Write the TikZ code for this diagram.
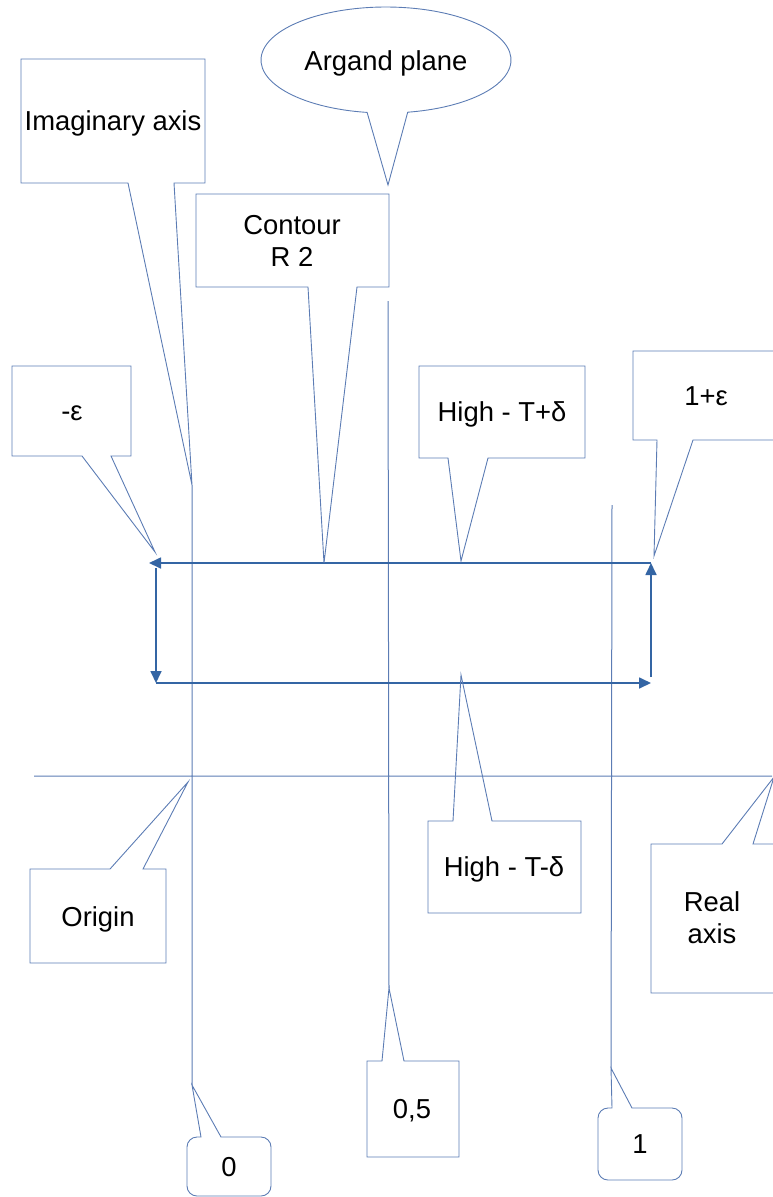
\documentclass[tikz,border=0pt]{standalone}
\usepackage{fontspec}
\setmainfont{Liberation Sans}
\usetikzlibrary{arrows.meta}
\definecolor{lineblue}{RGB}{92,124,180}
\definecolor{arrowblue}{RGB}{52,101,164}
\tikzset{
  callout/.style={draw=lineblue, line width=0.9pt, line join=miter},
  axis/.style={draw=lineblue, line width=1pt},
  txt/.style={font=\fontsize{27.4}{32}\selectfont, align=center, inner sep=0pt},
  oneline/.style={txt, text height=19.6pt, text depth=0pt},
  contour/.style={draw=arrowblue, line width=1.7pt, -{Triangle[length=12pt,width=11pt]}}
}

\begin{document}
\begin{tikzpicture}[x=1pt, y=-1pt]
\useasboundingbox (0, 0) rectangle (772, 1197);

% callout tips
\coordinate (imtip) at (192, 485);
\coordinate (argtip) at (388, 185);
\coordinate (contip) at (324, 563);
\coordinate (epstip) at (155, 552);
\coordinate (uptip) at (461, 561);
\coordinate (onetip) at (654, 556);
\coordinate (origtip) at (188, 782);
\coordinate (lowtip) at (461, 675);
\coordinate (realtip) at (774, 777);
\coordinate (halftip) at (389, 988);
\coordinate (zerotip) at (192, 1085);
\coordinate (unittip) at (611, 1068);

% axes
\coordinate (halftop) at (388, 301);
\coordinate (unittop) at (612, 505);
\coordinate (realleft) at (34, 776);
\coordinate (realright) at (772, 776);
\draw[axis] (imtip) -- (zerotip)   (halftop) -- (halftip)
            (unittop) -- (unittip)   (realleft) -- (realright);

% contour
\coordinate (ne) at (651, 563);
\coordinate (nw) at (156, 563);
\coordinate (sw) at (156, 683);
\coordinate (se) at (651, 683);
\draw[contour] (ne) -- ([xshift=-7pt]nw);
\draw[contour] ([yshift=-5pt]nw) -- (sw);
\draw[contour] (sw) -- (se);
\draw[contour] ([yshift=6pt]se) -- (ne);

% callouts above
\draw[callout] (21, 59) -- (205, 59) -- (205, 183) -- (174, 183) -- (imtip)
               -- (128, 183) -- (21, 183) -- cycle;
\node[oneline] (imag) at (113, 121) {Imaginary axis};

\draw[callout] (367.1, 112.4) arc[start angle=98.7, end angle=440, x radius=125, y radius=53]
               -- (argtip) -- cycle;
\node[oneline] (argand) at (386, 61) {Argand plane};

\draw[callout] (196, 194) -- (389, 194) -- (389, 287) -- (357, 287) -- (contip)
               -- (308, 287) -- (196, 287) -- cycle;
\node[txt] (contour) at (292, 241) {Contour\\R 2};

\draw[callout] (12, 366) -- (131, 366) -- (131, 456) -- (111, 456) -- (epstip)
               -- (82, 456) -- (12, 456) -- cycle;
\node[oneline] (meps) at (72, 411) {-ε};

\draw[callout] (419, 366) -- (585, 366) -- (585, 458) -- (488, 458) -- (uptip)
               -- (448, 458) -- (419, 458) -- cycle;
\node[oneline] (up) at (502, 412) {High - T+δ};

\draw[callout] (633, 351) -- (780, 351) -- (780, 440) -- (693, 440) -- (onetip)
               -- (657, 440) -- (633, 440) -- cycle;
\node[oneline] (peps) at (706, 396) {1+ε};

% callouts below
\draw[callout] (30, 869) -- (110, 869) -- (origtip) -- (143, 869) -- (166, 869)
               -- (166, 963) -- (30, 963) -- cycle;
\node[oneline] (origin) at (98, 917) {Origin};

\draw[callout] (428, 821) -- (453, 821) -- (lowtip) -- (492, 821) -- (581, 821)
               -- (581, 913) -- (428, 913) -- cycle;
\node[oneline] (low) at (504, 867) {High - T-δ};

\draw[callout] (651, 844) -- (722, 844) -- (realtip) -- (753, 844) -- (780, 844)
               -- (780, 993) -- (651, 993) -- cycle;
\node[txt] (real) at (712, 918) {Real\\axis};

\draw[callout] (367, 1061) -- (382, 1061) -- (halftip) -- (404, 1061) -- (459, 1061)
               -- (459, 1157) -- (367, 1157) -- cycle;
\node[oneline] (half) at (412, 1109) {0,5};

\draw[callout] (201, 1137) -- (zerotip) -- (221, 1137) [rounded corners=10pt] -- (271, 1137)
               -- (271, 1196) -- (187, 1196) -- (187, 1137) [sharp corners] -- cycle;
\node[oneline] (zero) at (229, 1167) {0};

\draw[callout] (612, 1108) -- (unittip) -- (632, 1108) [rounded corners=10pt] -- (682, 1108)
               -- (682, 1180) -- (598, 1180) -- (598, 1108) [sharp corners] -- cycle;
\node[oneline] (unit) at (640, 1144) {1};
\end{tikzpicture}
\end{document}
